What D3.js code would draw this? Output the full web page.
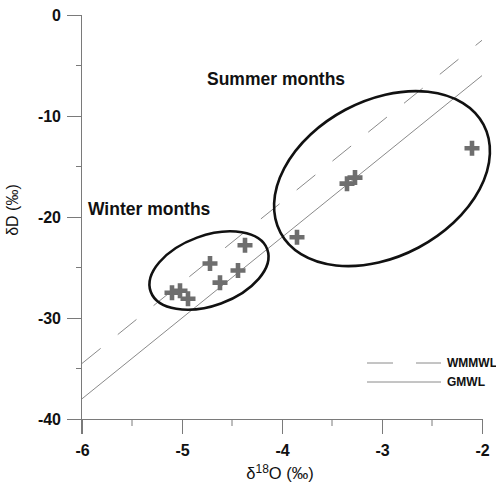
<!DOCTYPE html>
<html>
<head>
<meta charset="utf-8">
<script src="https://cdn.jsdelivr.net/npm/d3@7"></script>
<style>
  html, body { margin: 0; padding: 0; background: #fff; }
  svg { display: block; font-family: "Liberation Sans", Arial, sans-serif; }
</style>
</head>
<body>
<svg id="chart" width="496" height="484"></svg>
<script>
// Monthly precipitation isotopes (δ18O, δD in ‰)
const summerO = [-2.10, -3.35, -3.27, -3.85];
const summerD = [-13.2, -16.7, -16.1, -22.0];
const winterO = [-4.37, -4.72, -4.44, -4.62, -5.10, -5.02, -4.94];
const winterD = [-22.8, -24.6, -25.3, -26.5, -27.5, -27.3, -28.1];

// Meteoric water lines, given at the ends of the δ18O range
const lineO = [-6, -2];
const gmwlD = [-38, -6];
const wmmwlD = [-34.5, -2.5];

// Axis ticks
const xTicks = [-6, -5, -4, -3, -2];
const xMinor = [-5.5, -4.5, -3.5, -2.5];
const yTicks = [0, -10, -20, -30, -40];
const yMinor = [-5, -15, -25, -35];

const svg = d3.select("#chart");
const x = d3.scaleLinear().domain([-6, -2]).range([82, 482]);
const y = d3.scaleLinear().domain([-40, 0]).range([419, 15]);

const axisColor = "#7a7a7a";
const markColor = "#6e6e6e";
const fmt = d => String(d); // plain hyphen-minus labels

// Meteoric water lines
const lineGen = d3.line().x(d => x(d[0])).y(d => y(d[1]));
svg.append("path")
  .attr("d", lineGen(d3.zip(lineO, wmmwlD)))
  .attr("fill", "none").attr("stroke", "#8a8a8a").attr("stroke-width", 1)
  .attr("stroke-dasharray", "24,22");
svg.append("path")
  .attr("d", lineGen(d3.zip(lineO, gmwlD)))
  .attr("fill", "none").attr("stroke", "#8a8a8a").attr("stroke-width", 1);

// Axes
const xAxis = svg.append("g").attr("transform", `translate(0,${y(-40)})`)
  .call(d3.axisBottom(x).tickValues(xTicks).tickSize(15).tickSizeOuter(0).tickFormat(fmt));
const yAxis = svg.append("g").attr("transform", `translate(${x(-6)},0)`)
  .call(d3.axisLeft(y).tickValues(yTicks).tickSize(15).tickSizeOuter(0).tickFormat(fmt));
[xAxis, yAxis].forEach(g => {
  g.select(".domain").attr("stroke", axisColor);
  g.selectAll(".tick line").attr("stroke", axisColor);
  g.selectAll(".tick text").attr("fill", "#111").attr("font-size", 16)
    .attr("font-weight", "bold")
    .attr("font-family", "Liberation Sans, Arial, sans-serif");
});
// extend the axis lines through the corner
xAxis.select(".domain").attr("d", `M${x(-6) - 15},0.5H${x(-2)}`);
yAxis.select(".domain").attr("d", `M-0.5,${y(0)}V${y(-40) + 15}`);
xAxis.selectAll(".tick text").attr("y", 26).attr("dy", "0.71em");
yAxis.selectAll(".tick text").attr("x", -21).attr("dy", "0.34em");

svg.append("g").selectAll("line").data(xMinor).join("line")
  .attr("x1", d => x(d)).attr("x2", d => x(d))
  .attr("y1", y(-40)).attr("y2", y(-40) + 7)
  .attr("stroke", axisColor);
svg.append("g").selectAll("line").data(yMinor).join("line")
  .attr("y1", d => y(d)).attr("y2", d => y(d))
  .attr("x1", x(-6)).attr("x2", x(-6) - 6)
  .attr("stroke", axisColor);

// Axis titles
const xt = svg.append("text").attr("x", 280).attr("y", 479)
  .attr("text-anchor", "middle").attr("font-size", 16.5).attr("fill", "#111");
xt.append("tspan").text("δ");
xt.append("tspan").attr("font-size", 12).attr("dy", -6).text("18");
xt.append("tspan").attr("dy", 6).text("O (‰)");
svg.append("text")
  .attr("transform", "translate(18,210) rotate(-90)")
  .attr("text-anchor", "middle").attr("font-size", 16).attr("fill", "#111")
  .text("δD (‰)");

// Grouping ellipses
const ellipses = [
  { cx: -3.0, cy: -16.2, rx: 115, ry: 78, angle: -28 },
  { cx: -4.73, cy: -25.3, rx: 62, ry: 35, angle: -20 }
];
svg.append("g").selectAll("ellipse").data(ellipses).join("ellipse")
  .attr("transform", d => `translate(${x(d.cx)},${y(d.cy)}) rotate(${d.angle})`)
  .attr("rx", d => d.rx).attr("ry", d => d.ry)
  .attr("fill", "none").attr("stroke", "#111").attr("stroke-width", 2.6);

// Sample markers
const pts = d3.zip(summerO.concat(winterO), summerD.concat(winterD));
const cross = "M-7.5,0H7.5M0,-7.5V7.5";
svg.append("g").selectAll("path").data(pts).join("path")
  .attr("transform", d => `translate(${x(d[0])},${y(d[1])})`)
  .attr("d", cross).attr("stroke", markColor).attr("stroke-width", 4.6);

// Group labels
svg.append("text").attr("x", x(-4.75)).attr("y", y(-6.95))
  .attr("font-size", 17.5).attr("font-weight", "bold").attr("fill", "#111")
  .text("Summer months");
svg.append("text").attr("x", x(-5.94)).attr("y", y(-19.85))
  .attr("font-size", 17.5).attr("font-weight", "bold").attr("fill", "#111")
  .text("Winter months");

// Legend
const legend = svg.append("g");
legend.append("line").attr("x1", 367).attr("x2", 441).attr("y1", 363).attr("y2", 363)
  .attr("stroke", "#8a8a8a").attr("stroke-dasharray", "26,23");
legend.append("line").attr("x1", 367).attr("x2", 441).attr("y1", 382).attr("y2", 382)
  .attr("stroke", "#8a8a8a");
legend.append("text").attr("x", 447).attr("y", 367).attr("font-size", 12)
  .attr("font-weight", "bold").attr("fill", "#111").text("WMMWL");
legend.append("text").attr("x", 447).attr("y", 386).attr("font-size", 12)
  .attr("font-weight", "bold").attr("fill", "#111").text("GMWL");
</script>
</body>
</html>
